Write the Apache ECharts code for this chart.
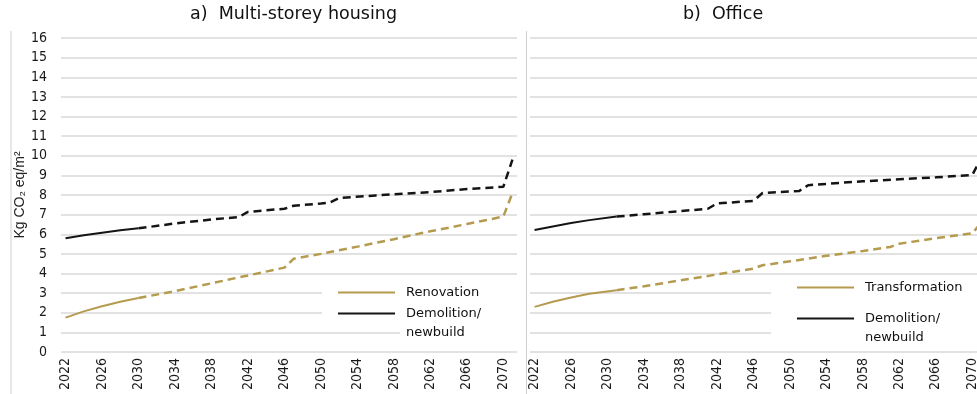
<!DOCTYPE html>
<html>
<head>
<meta charset="utf-8">
<script src="https://cdn.jsdelivr.net/npm/echarts@6/dist/echarts.min.js"></script>
<style>
  html, body { margin: 0; padding: 0; background: #fff; }
  #chart { width: 977px; height: 394px; }
</style>
</head>
<body>
<div id="chart"></div>
<script>
// Year categories shared by both panels
const years = ['2022','2023','2024','2025','2026','2027','2028','2029','2030','2031',
  '2032','2033','2034','2035','2036','2037','2038','2039','2040','2041',
  '2042','2043','2044','2045','2046','2047','2048','2049','2050','2051',
  '2052','2053','2054','2055','2056','2057','2058','2059','2060','2061',
  '2062','2063','2064','2065','2066','2067','2068','2069','2070','2071'];

// a) Multi-storey housing — [year, kg CO2 eq/m²]
const housingRenovationSolid = [['2022',1.75],['2024',2.07],['2026',2.33],['2028',2.56],['2030',2.75]];
const housingRenovationDashed = [['2030',2.75],['2034',3.1],['2038',3.5],['2042',3.9],['2046',4.3],['2047',4.75],
  ['2050',5.0],['2054',5.37],['2058',5.75],['2062',6.15],['2066',6.52],['2070',6.9],['2071',8.1]];
const housingDemolitionSolid = [['2022',5.8],['2024',5.95],['2026',6.08],['2028',6.2],['2030',6.3]];
const housingDemolitionDashed = [['2030',6.3],['2034',6.55],['2038',6.75],['2041',6.88],['2042',7.14],['2046',7.3],
  ['2047',7.45],['2050',7.57],['2051',7.62],['2052',7.85],['2056',7.98],['2062',8.15],['2066',8.3],['2070',8.42],['2071',9.8]];

// b) Office — [year, kg CO2 eq/m²]
const officeTransformationSolid = [['2022',2.3],['2024',2.56],['2026',2.78],['2028',2.97],['2031',3.15]];
const officeTransformationDashed = [['2031',3.15],['2034',3.35],['2038',3.65],['2042',3.95],['2046',4.25],['2047',4.42],
  ['2050',4.62],['2054',4.9],['2058',5.15],['2061',5.35],['2062',5.52],['2066',5.8],['2070',6.05],['2071',6.6]];
const officeDemolitionSolid = [['2022',6.22],['2024',6.4],['2026',6.57],['2028',6.72],['2031',6.9]];
const officeDemolitionDashed = [['2031',6.9],['2034',7.02],['2038',7.18],['2041',7.3],['2042',7.57],['2046',7.7],
  ['2047',8.1],['2050',8.18],['2051',8.2],['2052',8.5],['2058',8.7],['2062',8.8],['2066',8.9],['2070',9.02],['2071',9.9]];

const panelTitles = ['a)  Multi-storey housing', 'b)  Office'];
const yAxisTitle = 'Kg CO\u2082 eq/m\u00b2';

const GOLD = '#b59b4f';
const BLACK = '#141414';
const GRID_LINE = '#d9d9d9';
const LABEL_FONT = "'Liberation Sans Narrow', 'DejaVu Sans Condensed', sans-serif";
const TEXT_FONT = "'DejaVu Sans', sans-serif";

function lineSeries(name, data, color, dashed, idx) {
  return {
    type: 'line', name: name, data: data,
    xAxisIndex: idx, yAxisIndex: idx,
    symbol: 'none', silent: true, animation: false,
    lineStyle: { color: color, width: dashed ? 2.5 : 2, type: dashed ? [8, 5] : 'solid' },
    itemStyle: { color: color },
    z: 3
  };
}

function xAxis(idx) {
  return {
    type: 'category', gridIndex: idx, data: years, boundaryGap: true,
    axisLine: { show: false }, axisTick: { show: false }, splitLine: { show: false },
    axisLabel: { interval: 3, rotate: 90, margin: 6, fontSize: 14, fontFamily: LABEL_FONT, color: '#1a1a1a' }
  };
}

function yAxis(idx, withLabels) {
  const ax = {
    type: 'value', gridIndex: idx, min: 0, max: 16, interval: 1,
    axisLine: { show: false }, axisTick: { show: false },
    splitLine: { show: true, lineStyle: { color: GRID_LINE, width: 1.5 } },
    axisLabel: { show: withLabels, margin: 14, fontSize: 14, fontFamily: LABEL_FONT, color: '#1a1a1a' }
  };
  if (withLabels) {
    ax.name = yAxisTitle;
    ax.nameLocation = 'middle';
    ax.nameGap = 33;
    ax.nameTextStyle = { fontSize: 14, fontFamily: "'Liberation Sans', sans-serif", color: '#222' };
  }
  return ax;
}

const legendText = { fontSize: 13, fontFamily: TEXT_FONT, color: '#111', lineHeight: 19 };
const legendRich = {
  a: { fontSize: 13, fontFamily: TEXT_FONT, color: '#111', lineHeight: 19, padding: [0, 0, 0, 6] },
  b: { fontSize: 13, fontFamily: TEXT_FONT, color: '#111', lineHeight: 19, padding: [0, 60, 0, 6], backgroundColor: '#fff' }
};

const option = {
  backgroundColor: '#fff',
  animation: false,
  title: [
    { text: panelTitles[0], left: 185, top: 0, textStyle: { fontSize: 17.5, fontWeight: 'normal', fontFamily: TEXT_FONT, color: '#111' } },
    { text: panelTitles[1], left: 678, top: 0, textStyle: { fontSize: 17.5, fontWeight: 'normal', fontFamily: TEXT_FONT, color: '#111' } }
  ],
  grid: [
    { left: 61, top: 38, right: 460, bottom: 42, outerBoundsMode: 'none' },
    { left: 530, top: 38, right: -9, bottom: 42, outerBoundsMode: 'none' }
  ],
  xAxis: [xAxis(0), xAxis(1)],
  yAxis: [yAxis(0, true), yAxis(1, false)],
  legend: [
    { // housing: Renovation, white box hides the grid lines behind the key
      data: ['Renovation'], left: 322, top: 280, orient: 'vertical', z: 3,
      icon: 'rect', itemWidth: 57, itemHeight: 2, selectedMode: false,
      backgroundColor: '#fff', padding: [3, 42, 20, 16],
      textStyle: Object.assign({ padding: [0, 0, 0, 6] }, legendText)
    },
    { // housing: Demolition/newbuild
      data: ['Demolition/newbuild'], left: 338, top: 285, orient: 'vertical', z: 4,
      icon: 'rect', itemWidth: 57, itemHeight: 2, selectedMode: false, padding: 0,
      formatter: function () { return '{a|Demolition/}\n{b|newbuild}'; },
      textStyle: Object.assign({ padding: [19, 0, 0, 0], rich: legendRich }, legendText)
    },
    { // office: Transformation, white box hides the grid lines behind the key
      data: ['Transformation'], left: 771, top: 275, orient: 'vertical', z: 3,
      icon: 'rect', itemWidth: 57, itemHeight: 2, selectedMode: false,
      backgroundColor: '#fff', padding: [3, 40, 39, 26],
      textStyle: Object.assign({ padding: [0, 0, 0, 6] }, legendText)
    },
    { // office: Demolition/newbuild
      data: ['Demolition/newbuild'], left: 797, top: 290, orient: 'vertical', z: 4,
      icon: 'rect', itemWidth: 57, itemHeight: 2, selectedMode: false, padding: 0,
      formatter: function () { return '{a|Demolition/}\n{a|newbuild}'; },
      textStyle: Object.assign({ padding: [19, 0, 0, 0], rich: legendRich }, legendText)
    }
  ],
  graphic: [
    { type: 'line', shape: { x1: 11, y1: 31, x2: 11, y2: 394 }, style: { stroke: '#cfcfcf', lineWidth: 1 }, silent: true },
    { type: 'line', shape: { x1: 526.5, y1: 31, x2: 526.5, y2: 394 }, style: { stroke: '#cfcfcf', lineWidth: 1 }, silent: true }
  ],
  series: [
    lineSeries('Renovation', housingRenovationSolid, GOLD, false, 0),
    lineSeries('Renovation (projected)', housingRenovationDashed, GOLD, true, 0),
    lineSeries('Demolition/newbuild', housingDemolitionSolid, BLACK, false, 0),
    lineSeries('Demolition/newbuild (projected)', housingDemolitionDashed, BLACK, true, 0),
    lineSeries('Transformation', officeTransformationSolid, GOLD, false, 1),
    lineSeries('Transformation (projected)', officeTransformationDashed, GOLD, true, 1),
    lineSeries('Demolition/newbuild ', officeDemolitionSolid, BLACK, false, 1),
    lineSeries('Demolition/newbuild (projected) ', officeDemolitionDashed, BLACK, true, 1)
  ]
};

const chart = echarts.init(document.getElementById('chart'), null, { renderer: 'canvas' });
chart.setOption(option);
</script>
</body>
</html>
